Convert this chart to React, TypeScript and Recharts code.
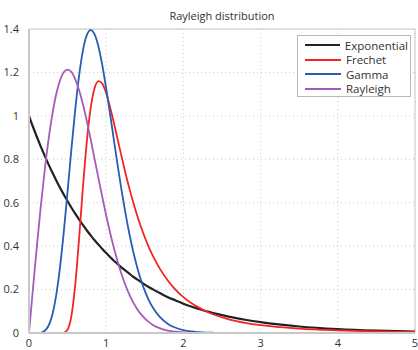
import { CartesianGrid, Line, LineChart, ReferenceLine, XAxis, YAxis } from "recharts";

const xs = [
  0, 0.05, 0.1, 0.15, 0.2, 0.25, 0.3, 0.35, 0.4, 0.45, 0.5, 0.55, 0.6, 0.65, 0.7, 0.75, 0.8,
  0.85, 0.9, 0.95, 1.0, 1.05, 1.1, 1.15, 1.2, 1.25, 1.3, 1.35, 1.4, 1.45, 1.5, 1.55, 1.6,
  1.7, 1.8, 1.9, 2.0, 2.1, 2.2, 2.3, 2.4, 2.6, 2.8, 3.0, 3.5, 4.0, 4.5, 5.0,
];

const exponential = [
  1, 0.951, 0.905, 0.861, 0.819, 0.779, 0.741, 0.705, 0.67, 0.638, 0.607, 0.577, 0.549, 0.522,
  0.497, 0.472, 0.449, 0.427, 0.407, 0.387, 0.368, 0.35, 0.333, 0.317, 0.301, 0.287, 0.273,
  0.259, 0.247, 0.235, 0.223, 0.212, 0.202, 0.183, 0.165, 0.15, 0.135, 0.122, 0.111, 0.1,
  0.091, 0.074, 0.061, 0.05, 0.03, 0.018, 0.011, 0.007,
];

const frechet = [
  0, 0, 0, 0, 0, 0, 0, 0, 0, 0.001, 0.016, 0.08, 0.226, 0.441, 0.677, 0.886, 1.039, 1.128,
  1.16, 1.148, 1.104, 1.04, 0.967, 0.889, 0.811, 0.736, 0.666, 0.602, 0.542, 0.489, 0.441,
  0.397, 0.359, 0.293, 0.241, 0.199, 0.165, 0.138, 0.117, 0.099, 0.084, 0.062, 0.047, 0.036,
  0.02, 0.012, 0.007, 0.005,
];

const gamma = [
  0, 0, 0, 0.001, 0.009, 0.031, 0.081, 0.169, 0.298, 0.463, 0.653, 0.849, 1.033, 1.188, 1.304,
  1.373, 1.395, 1.375, 1.318, 1.232, 1.126, 1.009, 0.888, 0.769, 0.655, 0.551, 0.457, 0.375,
  0.304, 0.244, 0.194, 0.153, 0.12, 0.072, 0.042, 0.024, 0.013, 0.007, 0.004, 0.002, 0.001,
  0, 0, 0, 0, 0, 0, 0,
];

const rayleigh = [
  0, 0.199, 0.392, 0.574, 0.738, 0.882, 1.002, 1.096, 1.162, 1.201, 1.213, 1.202, 1.168, 1.117,
  1.051, 0.974, 0.89, 0.801, 0.712, 0.625, 0.541, 0.463, 0.391, 0.327, 0.269, 0.22, 0.177,
  0.141, 0.111, 0.087, 0.067, 0.051, 0.038, 0.021, 0.011, 0.006, 0.003, 0.001, 0.001, 0, 0,
  0, 0, 0, 0, 0, 0, 0,
];

const xTicks = [0, 1, 2, 3, 4, 5];
const yTicks = [0, 0.2, 0.4, 0.6, 0.8, 1, 1.2, 1.4];

const series = [
  { key: "exponential", label: "Exponential", color: "#222222" },
  { key: "frechet", label: "Frechet", color: "#f42424" },
  { key: "gamma", label: "Gamma", color: "#2b5cb3" },
  { key: "rayleigh", label: "Rayleigh", color: "#a45cba" },
];

const data = xs.map((x, i) => ({
  x,
  exponential: exponential[i],
  frechet: frechet[i],
  gamma: gamma[i],
  rayleigh: rayleigh[i],
}));

const font = "'Open Sans', 'DejaVu Sans', sans-serif";

function LegendBox() {
  return (
    <div
      style={{
        position: "absolute",
        left: 297,
        top: 35,
        width: 114,
        height: 62,
        boxSizing: "border-box",
        border: "1px solid #b8b8b8",
        background: "white",
        padding: "2px 2px 2px 7px",
        fontFamily: font,
        fontSize: 11.5,
        color: "#333",
      }}
    >
      {series.map((s) => (
        <div key={s.key} style={{ display: "flex", alignItems: "center", height: 14.5 }}>
          <span
            style={{ width: 36, height: 0, borderTop: `2px solid ${s.color}`, marginRight: 5 }}
          />
          <span style={{ lineHeight: "13px" }}>{s.label}</span>
        </div>
      ))}
    </div>
  );
}

export default function App() {
  return (
    <div style={{ position: "absolute", left: 0, top: 0, width: 418, height: 350, background: "white" }}>
      <div
        style={{
          position: "absolute",
          left: 29,
          width: 386,
          top: 8,
          textAlign: "center",
          fontFamily: font,
          fontSize: 11,
          color: "#333",
        }}
      >
        Rayleigh distribution
      </div>
      <LineChart
        width={418}
        height={350}
        data={data}
        margin={{ top: 29, right: 3, bottom: 0, left: 0 }}
      >
        <CartesianGrid stroke="#c8c8c8" strokeDasharray="1 3" />
        <XAxis
          dataKey="x"
          type="number"
          domain={[0, 5]}
          ticks={xTicks}
          height={17}
          tickLine={false}
          stroke="#c8c8c8"
          strokeWidth={2}
          tick={{ fill: "#333", fontSize: 11, fontFamily: font }}
          tickMargin={0}
        />
        <YAxis
          type="number"
          domain={[0, 1.4]}
          ticks={yTicks}
          width={29}
          tickLine={false}
          stroke="#c8c8c8"
          strokeWidth={2}
          tick={{ fill: "#333", fontSize: 11, fontFamily: font }}
          tickMargin={4}
        />
        <ReferenceLine y={1.4} stroke="#c8c8c8" strokeWidth={1} />
        <ReferenceLine x={5} stroke="#c8c8c8" strokeWidth={1} />
        {series.map((s) => (
          <Line
            key={s.key}
            type="monotone"
            dataKey={s.key}
            stroke={s.color}
            strokeWidth={s.key === "exponential" ? 2.2 : 1.8}
            dot={false}
            isAnimationActive={false}
          />
        ))}
      </LineChart>
      <LegendBox />
    </div>
  );
}
